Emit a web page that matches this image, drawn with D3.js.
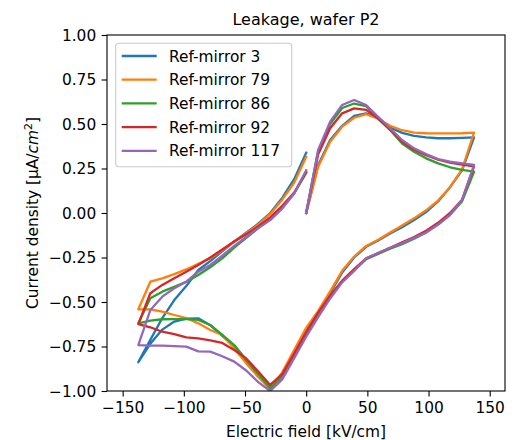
<!DOCTYPE html>
<html lang="en">

<head>
  <meta charset="utf-8">
  <title>Leakage, wafer P2</title>
  <style>
    body { margin: 0; background: #fff; }
    text { font-family: "DejaVu Sans", sans-serif; fill: #000; }
  </style>
</head>

<body>
  <script src="https://cdn.jsdelivr.net/npm/d3@7"></script>
  <script>
    // sweep: 0 -> +max -> -max -> 0  (kV/cm)
    var field = [0, 9.8, 19.6, 29.4, 39.2, 49, 58.8, 68.6, 78.4, 88.2, 98, 107.8, 117.6, 127.4, 137.2,
      127.4, 117.6, 107.8, 98, 88.2, 78.4, 68.6, 58.8, 49, 39.2, 29.4, 19.6, 9.8, 0,
      -9.8, -19.6, -29.4, -39.2, -49, -58.8, -68.6, -78.4, -88.2, -98, -107.8, -117.6, -127.4, -137.2,
      -127.4, -117.6, -107.8, -98, -88.2, -78.4, -68.6, -58.8, -49, -39.2, -29.4, -19.6, -9.8, 0];

    var names = ["Ref-mirror 3", "Ref-mirror 79", "Ref-mirror 86", "Ref-mirror 92", "Ref-mirror 117"];
    var colors = ["#1f77b4", "#ff7f0e", "#2ca02c", "#d62728", "#9467bd"];

    var mirror3 = [0, 0.27, 0.41, 0.49, 0.545, 0.56, 0.535, 0.48, 0.45, 0.433, 0.425, 0.42, 0.42, 0.422, 0.425,
      0.24, 0.145, 0.065, 0.005, -0.04, -0.08, -0.115, -0.155, -0.19, -0.25, -0.335, -0.45, -0.56, -0.66,
      -0.785, -0.91, -0.98, -0.92, -0.835, -0.75, -0.69, -0.63, -0.592, -0.593, -0.61, -0.655, -0.735, -0.838,
      -0.713, -0.59, -0.489, -0.41, -0.32, -0.27, -0.215, -0.16, -0.11, -0.06, 0.0, 0.085, 0.19, 0.339];
    var mirror79 = [0, 0.26, 0.40, 0.485, 0.535, 0.555, 0.53, 0.49, 0.465, 0.452, 0.448, 0.447, 0.447, 0.448, 0.452,
      0.245, 0.145, 0.07, 0.015, -0.03, -0.07, -0.11, -0.15, -0.185, -0.245, -0.325, -0.44, -0.55, -0.645,
      -0.77, -0.895, -0.99, -0.92, -0.845, -0.76, -0.685, -0.657, -0.62, -0.59, -0.573, -0.554, -0.541, -0.541,
      -0.386, -0.367, -0.343, -0.317, -0.285, -0.255, -0.21, -0.16, -0.115, -0.065, -0.005, 0.075, 0.17, 0.316];
    var mirror86 = [0, 0.35, 0.50, 0.59, 0.615, 0.60, 0.53, 0.466, 0.39, 0.344, 0.307, 0.279, 0.257, 0.242, 0.232,
      0.065, -0.01, -0.065, -0.11, -0.145, -0.175, -0.2, -0.23, -0.26, -0.32, -0.385, -0.465, -0.565, -0.68,
      -0.80, -0.92, -0.985, -0.905, -0.825, -0.742, -0.685, -0.629, -0.601, -0.596, -0.596, -0.597, -0.605, -0.62,
      -0.479, -0.442, -0.414, -0.386, -0.348, -0.305, -0.255, -0.195, -0.14, -0.085, -0.035, 0.03, 0.11, 0.225];
    var mirror92 = [0, 0.33, 0.476, 0.56, 0.588, 0.579, 0.53, 0.47, 0.40, 0.355, 0.325, 0.30, 0.283, 0.272, 0.262,
      0.075, 0.0, -0.055, -0.10, -0.135, -0.165, -0.195, -0.225, -0.255, -0.315, -0.38, -0.465, -0.56, -0.67,
      -0.79, -0.905, -0.966, -0.89, -0.817, -0.77, -0.73, -0.715, -0.704, -0.699, -0.68, -0.667, -0.642, -0.624,
      -0.451, -0.404, -0.367, -0.33, -0.292, -0.25, -0.205, -0.16, -0.12, -0.075, -0.025, 0.04, 0.115, 0.23];
    var mirror117 = [0, 0.354, 0.513, 0.607, 0.635, 0.607, 0.541, 0.476, 0.41, 0.363, 0.331, 0.303, 0.288, 0.279, 0.27,
      0.073, -0.01, -0.065, -0.11, -0.14, -0.17, -0.195, -0.225, -0.255, -0.325, -0.39, -0.48, -0.585, -0.695,
      -0.815, -0.935, -1.0, -0.95, -0.885, -0.835, -0.805, -0.779, -0.777, -0.751, -0.748, -0.745, -0.745, -0.742,
      -0.545, -0.47, -0.423, -0.386, -0.33, -0.292, -0.24, -0.185, -0.135, -0.085, -0.04, 0.025, 0.11, 0.24];

    var xTicks = [-150, -100, -50, 0, 50, 100, 150];
    var yTicks = [-1, -0.75, -0.5, -0.25, 0, 0.25, 0.5, 0.75, 1];

    var series = [mirror3, mirror79, mirror86, mirror92, mirror117];

    var width = 520;
    var height = 440;
    // plot box (window.top is read-only, so no bare "top")
    var box = { l: 107, r: 505, t: 35, b: 391 };
    var fs = 15.4;

    var svg = d3.select("body").append("svg")
      .attr("width", width)
      .attr("height", height);

    var xScale = d3.scaleLinear()
      .domain([-162.8, 162.5])
      .range([box.l, box.r]);

    var yScale = d3.scaleLinear()
      .domain([-1, 1])
      .range([box.b, box.t]);

    svg.append("clipPath").attr("id", "plot")
      .append("rect")
      .attr("x", box.l).attr("y", box.t)
      .attr("width", box.r - box.l).attr("height", box.b - box.t);

    var line = d3.line()
      .x(function(d) { return xScale(d[0]); })
      .y(function(d) { return yScale(d[1]); });

    svg.append("g")
      .attr("clip-path", "url(#plot)")
      .selectAll("path")
      .data(series)
      .enter()
      .append("path")
      .attr("fill", "none")
      .attr("stroke", function(d, i) { return colors[i]; })
      .attr("stroke-width", 2.3)
      .attr("stroke-linejoin", "round")
      .attr("stroke-linecap", "square")
      .attr("d", function(d) {
        return line(d.map(function(v, i) { return [field[i], v]; }));
      });

    // axes
    var xAxis = d3.axisBottom(xScale)
      .tickValues(xTicks)
      .tickSizeInner(5.4)
      .tickSizeOuter(0)
      .tickPadding(5.4)
      .tickFormat(d3.format("d"));
    var gx = svg.append("g")
      .attr("transform", "translate(0," + box.b + ")")
      .call(xAxis);

    var yAxis = d3.axisLeft(yScale)
      .tickValues(yTicks)
      .tickSizeInner(5.4)
      .tickSizeOuter(0)
      .tickPadding(5.4)
      .tickFormat(d3.format(".2f"));
    var gy = svg.append("g")
      .attr("transform", "translate(" + box.l + ",0)")
      .call(yAxis);

    [gx, gy].forEach(function(g) {
      g.select(".domain").remove();
      g.selectAll(".tick line").attr("stroke", "#000").attr("stroke-width", 1.1);
      g.selectAll(".tick text")
        .attr("fill", "#000")
        .style("font-family", "'DejaVu Sans', sans-serif")
        .style("font-size", fs + "px");
    });
    gx.selectAll(".tick text").attr("dy", "0.72em");
    gy.selectAll(".tick text").attr("dy", "0.35em");

    svg.append("rect")
      .attr("x", box.l).attr("y", box.t)
      .attr("width", box.r - box.l).attr("height", box.b - box.t)
      .attr("fill", "none")
      .attr("stroke", "#000")
      .attr("stroke-width", 1.1);

    // labels
    svg.append("text")
      .attr("x", (box.l + box.r) / 2)
      .attr("y", 25)
      .attr("text-anchor", "middle")
      .style("font-size", "16px")
      .text("Leakage, wafer P2");

    svg.append("text")
      .attr("x", (box.l + box.r) / 2)
      .attr("y", 437)
      .attr("text-anchor", "middle")
      .style("font-size", fs + "px")
      .text("Electric field [kV/cm]");

    var ylab = svg.append("text")
      .attr("transform", "translate(38," + ((box.t + box.b) / 2) + ") rotate(-90)")
      .attr("text-anchor", "middle")
      .style("font-size", fs + "px");
    ylab.append("tspan").text("Current density [μA/");
    ylab.append("tspan").style("font-style", "italic").text("cm");
    ylab.append("tspan").attr("dy", -6).style("font-size", "11px").text("2");
    ylab.append("tspan").attr("dy", 6).text("]");

    // legend
    var legend = svg.append("g");
    legend.append("rect")
      .attr("x", 115.7).attr("y", 43.3)
      .attr("width", 176).attr("height", 123.4)
      .attr("rx", 3)
      .attr("fill", "#fff")
      .attr("fill-opacity", 0.8)
      .attr("stroke", "#cccccc")
      .attr("stroke-width", 1.1);

    var rows = legend.selectAll("g.row")
      .data(names)
      .enter()
      .append("g")
      .attr("class", "row")
      .attr("transform", function(d, i) { return "translate(0," + (56 + i * 23.7) + ")"; });
    rows.append("line")
      .attr("x1", 121.7).attr("x2", 156.7)
      .attr("stroke", function(d, i) { return colors[i]; })
      .attr("stroke-width", 2.3);
    rows.append("text")
      .attr("x", 169)
      .attr("dy", "0.36em")
      .style("font-size", fs + "px")
      .text(function(d) { return d; });
  </script>
</body>

</html>
